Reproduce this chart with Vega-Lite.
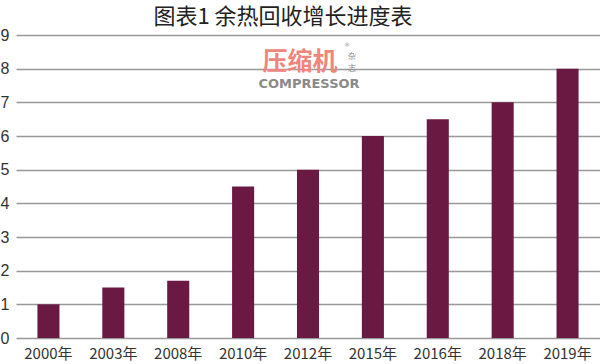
{
  "$schema": "https://vega.github.io/schema/vega-lite/v6.json",
  "width": 584,
  "height": 303,
  "autosize": {"type": "none"},
  "padding": {"left": 16, "top": 35, "right": 0, "bottom": 26},
  "background": "#ffffff",
  "title": {
    "text": "图表1 余热回收增长进度表",
    "font": "Noto Sans CJK SC",
    "fontSize": 22,
    "fontWeight": "normal",
    "color": "#222222",
    "anchor": "middle",
    "frame": "group",
    "dx": -25,
    "offset": -2
  },
  "config": {
    "view": {"stroke": null},
    "axis": {"labelFont": "Liberation Sans", "labelColor": "#333333"},
    "axisX": {"title": null, "labelAngle": 0, "ticks": false, "domain": false, "labelPadding": 8, "labelFontSize": 15, "labelFont": "Noto Sans CJK SC", "grid": false},
    "axisY": {"title": null, "ticks": false, "domain": false, "labelPadding": 7, "labelFontSize": 16, "gridColor": "#999999", "gridWidth": 1.5, "gridOpacity": 1, "labelOverlap": false}
  },
  "datasets": {
    "bars": [
      {"year": "2000年", "value": 1},
      {"year": "2003年", "value": 1.5},
      {"year": "2008年", "value": 1.7},
      {"year": "2010年", "value": 4.5},
      {"year": "2012年", "value": 5},
      {"year": "2015年", "value": 6},
      {"year": "2016年", "value": 6.5},
      {"year": "2018年", "value": 7},
      {"year": "2019年", "value": 8}
    ],
    "mark": [
      {"label": "压缩机"}
    ]
  },
  "layer": [
    {
      "data": {"name": "bars"},
      "mark": {"type": "bar", "color": "#6a1942"},
      "encoding": {
        "x": {
          "field": "year",
          "type": "nominal",
          "sort": null,
          "scale": {"paddingInner": 0.66, "paddingOuter": 0.33},
          "axis": {"values": ["2000年", "2003年", "2008年", "2010年", "2012年", "2015年", "2016年", "2018年", "2019年"]}
        },
        "y": {
          "field": "value",
          "type": "quantitative",
          "scale": {"domain": [0, 9], "nice": false},
          "axis": {"values": [0, 1, 2, 3, 4, 5, 6, 7, 8, 9]}
        }
      }
    },
    {
      "data": {"name": "mark"},
      "mark": {"type": "text", "font": "Noto Sans CJK SC", "fontSize": 25, "fontWeight": "bold", "color": "#ef857b", "align": "center", "baseline": "middle", "dx": -8},
      "encoding": {
        "x": {"datum": "2012年", "axis": {"values": ["2000年", "2003年", "2008年", "2010年", "2012年", "2015年", "2016年", "2018年", "2019年"]}},
        "y": {"datum": 8.2, "axis": {"values": [0, 1, 2, 3, 4, 5, 6, 7, 8, 9]}},
        "text": {"value": "压缩机"}
      }
    },
    {
      "data": {"name": "mark"},
      "mark": {"type": "text", "font": "Noto Sans CJK SC", "fontSize": 8, "color": "#888888", "align": "center", "baseline": "middle", "dx": 44},
      "encoding": {
        "x": {"datum": "2012年", "axis": {"values": ["2000年", "2003年", "2008年", "2010年", "2012年", "2015年", "2016年", "2018年", "2019年"]}},
        "y": {"datum": 8.35, "axis": {"values": [0, 1, 2, 3, 4, 5, 6, 7, 8, 9]}},
        "text": {"value": "杂"}
      }
    },
    {
      "data": {"name": "mark"},
      "mark": {"type": "text", "font": "Noto Sans CJK SC", "fontSize": 8, "color": "#888888", "align": "center", "baseline": "middle", "dx": 44},
      "encoding": {
        "x": {"datum": "2012年", "axis": {"values": ["2000年", "2003年", "2008年", "2010年", "2012年", "2015年", "2016年", "2018年", "2019年"]}},
        "y": {"datum": 7.99, "axis": {"values": [0, 1, 2, 3, 4, 5, 6, 7, 8, 9]}},
        "text": {"value": "志"}
      }
    },
    {
      "data": {"name": "mark"},
      "mark": {"type": "text", "font": "DejaVu Sans", "fontSize": 6, "color": "#999999", "align": "center", "baseline": "middle", "dx": 39},
      "encoding": {
        "x": {"datum": "2012年", "axis": {"values": ["2000年", "2003年", "2008年", "2010年", "2012年", "2015年", "2016年", "2018年", "2019年"]}},
        "y": {"datum": 8.7, "axis": {"values": [0, 1, 2, 3, 4, 5, 6, 7, 8, 9]}},
        "text": {"value": "®"}
      }
    },
    {
      "data": {"name": "mark"},
      "mark": {"type": "text", "font": "DejaVu Sans", "fontSize": 13, "fontWeight": "bold", "color": "#8a8a8a", "align": "center", "baseline": "middle", "dx": 1},
      "encoding": {
        "x": {"datum": "2012年", "axis": {"values": ["2000年", "2003年", "2008年", "2010年", "2012年", "2015年", "2016年", "2018年", "2019年"]}},
        "y": {"datum": 7.54, "axis": {"values": [0, 1, 2, 3, 4, 5, 6, 7, 8, 9]}},
        "text": {"value": "COMPRESSOR"}
      }
    }
  ]
}
